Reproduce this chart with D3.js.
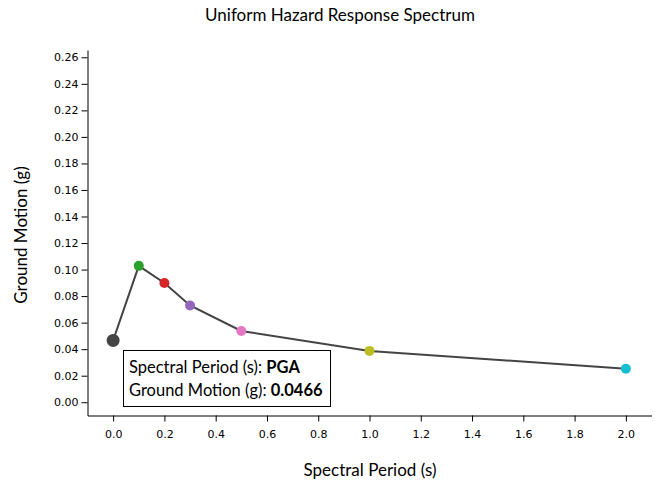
<!DOCTYPE html>
<html><head><meta charset="utf-8">
<script src="https://cdn.jsdelivr.net/npm/d3@7"></script>
<style>body{margin:0;background:#fff}</style>
</head><body>
<svg id="c" width="660" height="489"></svg>
<script>
const periods = ["PGA", "0.1", "0.2", "0.3", "0.5", "1.0", "2.0"];
const periodValues = [0.0, 0.1, 0.2, 0.3, 0.5, 1.0, 2.0];
const groundMotion = [0.0466, 0.1028, 0.0899, 0.0729, 0.0537, 0.0387, 0.0253];
const pointColors = ["#444444", "#2ca02c", "#d62728", "#9467bd", "#e377c2", "#bcbd22", "#17becf"];
const xTicks = [0, 0.2, 0.4, 0.6, 0.8, 1.0, 1.2, 1.4, 1.6, 1.8, 2.0];
const yTicks = [0, 0.02, 0.04, 0.06, 0.08, 0.10, 0.12, 0.14, 0.16, 0.18, 0.20, 0.22, 0.24, 0.26];

const svg = d3.select("#c");
const font = "Lato, 'Source Sans Pro', sans-serif";
const x = d3.scaleLinear().domain([-0.1, 2.1]).range([87.5, 651.5]);
const y = d3.scaleLinear().domain([-0.01, 0.2655]).range([415.5, 50]);

const xa = svg.append("g").attr("transform", "translate(0,415.5)")
  .call(d3.axisBottom(x).tickValues(xTicks).tickFormat(d3.format(".1f")).tickSizeOuter(0));
const ya = svg.append("g").attr("transform", "translate(87.5,0)")
  .call(d3.axisLeft(y).tickValues(yTicks).tickFormat(d3.format(".2f")).tickSizeOuter(0));
[xa, ya].forEach(a => {
  a.selectAll("text").attr("font-family", "DejaVu Sans, sans-serif").attr("font-size", 11).attr("fill", "#000");
  a.selectAll("line,path").attr("stroke", "#000");
});
xa.selectAll("text").attr("dy", "1.2em");

svg.append("text").attr("x", 340).attr("y", 21).attr("text-anchor", "middle")
  .attr("font-family", font).attr("font-size", 17).text("Uniform Hazard Response Spectrum");
svg.append("text").attr("x", 370).attr("y", 476).attr("text-anchor", "middle")
  .attr("font-family", font).attr("font-size", 17).text("Spectral Period (s)");
svg.append("text").attr("transform", "translate(27,235) rotate(-90)").attr("text-anchor", "middle")
  .attr("font-family", font).attr("font-size", 17).text("Ground Motion (g)");

const data = periods.map((p, i) => ({p, t: periodValues[i], v: groundMotion[i], c: pointColors[i]}));
svg.append("path").datum(data)
  .attr("d", d3.line().x(d => x(d.t)).y(d => y(d.v)))
  .attr("fill", "none").attr("stroke", "#444").attr("stroke-width", 2);
svg.selectAll("circle.pt").data(data).join("circle").attr("class", "pt")
  .attr("cx", d => x(d.t)).attr("cy", d => y(d.v))
  .attr("r", (d, i) => i === 0 ? 6.5 : 5).attr("fill", d => d.c);

const tip = svg.append("g");
tip.append("rect").attr("x", 123.5).attr("y", 350.5).attr("width", 207).attr("height", 56)
  .attr("fill", "#fff").attr("stroke", "#000").attr("stroke-width", 1);
const t1 = tip.append("text").attr("x", 129).attr("y", 373).attr("font-family", font).attr("font-size", 16.5);
t1.append("tspan").text("Spectral Period (s): ");
t1.append("tspan").attr("font-weight", "bold").text(periods[0]);
const t2 = tip.append("text").attr("x", 129).attr("y", 396).attr("font-family", font).attr("font-size", 16.5);
t2.append("tspan").text("Ground Motion (g): ");
t2.append("tspan").attr("font-weight", "bold").text(groundMotion[0].toFixed(4));
</script>
</body></html>
